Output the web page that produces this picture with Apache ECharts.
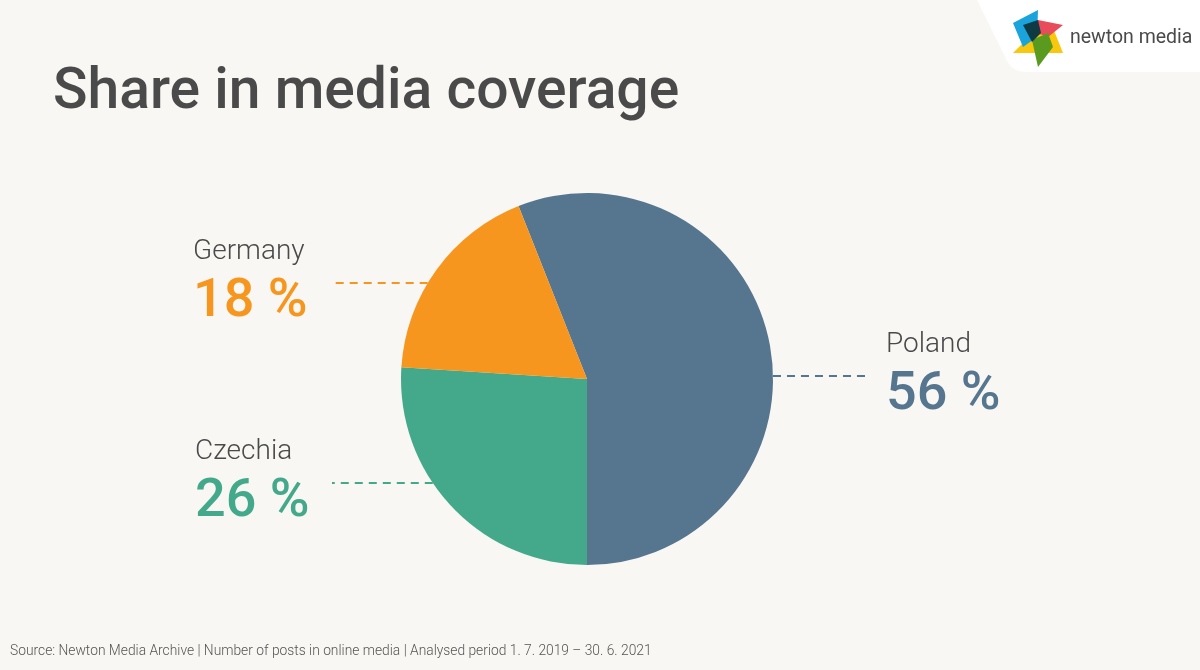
<!DOCTYPE html>
<html>
<head>
<meta charset="utf-8">
<script src="https://cdn.jsdelivr.net/npm/echarts@6/dist/echarts.min.js"></script>
<style>
html,body{margin:0;padding:0;background:#F8F7F3;}
#chart{width:1200px;height:670px;}
</style>
</head>
<body>
<div id="chart"></div>
<script>
const categories = ['Poland', 'Czechia', 'Germany'];
const values = [56, 26, 18];
const colors = ['#56758F', '#43A98A', '#F7961F'];

const titleText = 'Share in media coverage';
const sourceText = 'Source: Newton Media Archive | Number of posts in online media | Analysed period 1. 7. 2019 – 30. 6. 2021';

// layout constants
const CX = 587, CY = 379, R = 186;
const labelPos = {
  Poland:  { x: 886, lineY: 376, side: 'right', lineEnd: 868, top: 325 },
  Czechia: { x: 195, lineY: 483, side: 'left', lineEnd: 332, top: 432 },
  Germany: { x: 193, lineY: 283, side: 'left', lineEnd: 332, top: 232 }
};

const chart = echarts.init(document.getElementById('chart'));

const option = {
  backgroundColor: '#F8F7F3',
  animation: false,
  title: {
    text: titleText,
    left: 48,
    top: 59,
    textStyle: { fontFamily: 'Roboto', fontSize: 57, fontWeight: 500, color: '#4A4A4A', lineHeight: 60 }
  },
  graphic: [
    { type: 'polygon', shape: { points: [[977,0],[1200,0],[1200,72],[1026,72],[1018,71],[1011,67],[1007,61]] },
      style: { fill: '#FFFFFF' } },
    { type: 'polygon', shape: { points: [[1053,28],[1063,53],[1013,53],[1033,33]] }, style: { fill: '#F9C80E' } },
    { type: 'polygon', shape: { points: [[1013,23],[1038,10],[1037,37],[1023,47]] }, style: { fill: '#1BA3DC' } },
    { type: 'polygon', shape: { points: [[1038,20],[1063,25],[1048,37],[1037,33]] }, style: { fill: '#E84C5B' } },
    { type: 'polygon', shape: { points: [[1032,40],[1048,33],[1053,47],[1038,67]] }, style: { fill: '#5A9A1F' } },
    { type: 'polygon', shape: { points: [[1023,25],[1038,20],[1041,33],[1032,42]] }, style: { fill: '#0E3B43' } },
    { type: 'text', left: 1070, top: 28,
      style: { text: 'newton media', fontFamily: 'Roboto', fontSize: 19.5, fontWeight: 400, fill: '#4A4A4A' } },
    { type: 'text', left: 10, top: 645,
      style: { text: sourceText, fontFamily: 'Roboto', fontSize: 13.8, fontWeight: 300, fill: '#555555' } }
  ],
  series: [{
    type: 'pie',
    center: [CX, CY],
    radius: [0, R],
    startAngle: 111.6,
    clockwise: true,
    silent: true,
    emphasis: { disabled: true },
    data: categories.map((c, i) => ({
      name: c, value: values[i],
      itemStyle: { color: colors[i] },
      label: { rich: { v: { color: colors[i] } } },
      labelLine: { lineStyle: { color: colors[i] } }
    })),
    label: {
      show: true,
      position: 'outside',
      formatter: p => '{n|' + p.name + '}\n{v|' + p.value + ' %}',
      rich: {
        n: { fontFamily: 'Roboto', fontSize: 28, fontWeight: 300, color: '#4A4A4A', lineHeight: 40 },
        v: { fontFamily: 'Roboto', fontSize: 54, fontWeight: 500, lineHeight: 60 }
      }
    },
    labelLine: {
      show: true,
      lineStyle: { type: [8, 6], width: 2 }
    },
    labelLayout: function (params) {
      const name = categories[params.dataIndex];
      const lp = labelPos[name];
      const dy = lp.lineY - CY;
      const dx = Math.sqrt(R * R - dy * dy);
      const edgeX = lp.side === 'left' ? CX - dx : CX + dx;
      return {
        x: lp.x,
        y: lp.top,
        align: 'left',
        verticalAlign: 'top',
        labelLinePoints: [[edgeX, lp.lineY], [(edgeX + lp.lineEnd) / 2, lp.lineY], [lp.lineEnd, lp.lineY]]
      };
    }
  }]
};
chart.setOption(option);
</script>
</body>
</html>
